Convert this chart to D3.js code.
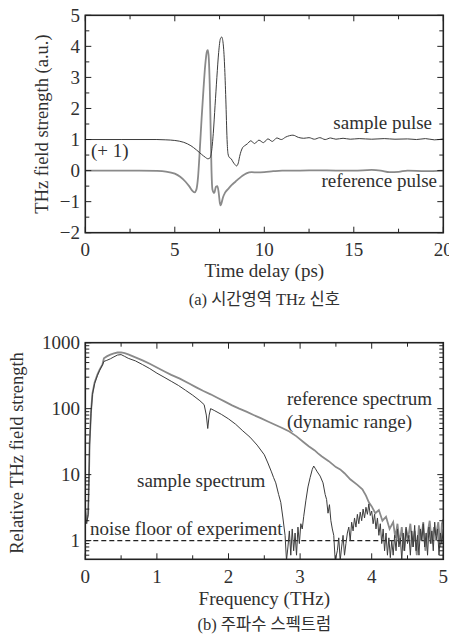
<!DOCTYPE html>
<html><head><meta charset="utf-8">
<script src="https://cdn.jsdelivr.net/npm/d3@7"></script>
<style>
html,body{margin:0;padding:0;background:#fff;}
svg text{font-family:"Liberation Serif","DejaVu Serif","Noto Sans CJK KR",serif;fill:#303030;}
</style></head>
<body>
<svg id="c" width="449" height="637"></svg>
<script>
// ---------- data ----------
const timeTicks = [0, 5, 10, 15, 20];
const fieldTicks = [-2, -1, 0, 1, 2, 3, 4, 5];
const freqTicks = [0, 1, 2, 3, 4, 5];
const ampTicks = [1, 10, 100, 1000];

const refTime = [0,1,2,3,4,4.5,5,5.3,5.6,5.8,
  6.0,6.1,6.2,6.3,6.4,6.5,6.6,6.7,6.8,6.85,
  6.9,6.95,7.0,7.05,7.1,7.2,7.3,7.38,7.45,7.52,
  7.57,7.63,7.7,7.8,8.0,8.2,8.4,8.6,8.8,9.0,
  9.3,9.6,10,10.5,11,12,13,14,15,16,
  16.5,17,17.5,18,19,20];
const refField = [0,0,0,0,-0.01,-0.03,-0.1,-0.2,-0.36,-0.5,
  -0.66,-0.7,-0.62,-0.2,0.7,1.7,2.6,3.4,3.85,3.88,
  3.6,2.8,1.4,0,-0.6,-0.72,-0.52,-0.5,-0.7,-1.05,
  -1.12,-1.0,-0.85,-0.72,-0.58,-0.45,-0.35,-0.25,-0.16,-0.09,
  -0.05,-0.06,-0.05,-0.02,0,0,0.01,0,0,0.02,
  0,-0.05,-0.04,0,-0.02,0];

const samTime = [0,2,4,4.5,5.0,5.5,5.9,6.2,6.5,6.7,
  6.85,6.95,7.05,7.15,7.25,7.35,7.45,7.55,7.62,7.7,
  7.78,7.85,7.92,7.97,8.05,8.15,8.25,8.35,8.45,8.55,
  8.62,8.7,8.8,8.9,9.05,9.25,9.45,9.7,9.95,10.2,
  10.45,10.7,10.95,11.2,11.6,11.9,12.2,12.5,12.8,13.1,
  13.4,13.7,14.0,14.4,14.8,15.3,16,16.7,17.3,18,
  18.5,19,19.5,20];
const samField = [1.0,1.0,1.0,0.99,0.97,0.91,0.8,0.67,0.52,0.43,
  0.38,0.4,0.6,1.2,2.1,3.0,3.8,4.25,4.3,4.1,
  3.4,2.3,1.0,0.55,0.42,0.38,0.28,0.2,0.15,0.25,
  0.45,0.62,0.75,0.8,0.86,0.96,0.87,0.98,0.9,1.02,
  0.94,1.05,1.0,1.08,1.14,1.07,1.04,1.06,1.01,1.06,
  1.0,1.05,1.01,1.04,1.01,1.03,1.01,1.03,1.01,1.02,
  1.0,1.03,0.99,1.02];

const refFreq = [0,0.02,0.04,0.05,0.06,0.08,0.10,0.13,0.17,0.20,
  0.24,0.26,0.30,0.35,0.40,0.45,0.50,0.55,0.60,0.70,
  0.80,0.90,1.00,1.10,1.20,1.32,1.45,1.55,1.65,1.75,
  1.85,1.95,2.05,2.15,2.25,2.35,2.45,2.55,2.65,2.75,
  2.85,2.95,3.05,3.12,3.20,3.25,3.30,3.40,3.50,3.56,
  3.62,3.70,3.80,3.87,3.92,3.96,4.00,4.05,4.10,4.15,
  4.20,4.25,4.30,4.33,4.36,4.39,4.42,4.45,4.48,4.51,
  4.54,4.57,4.60,4.63,4.66,4.69,4.72,4.75,4.78,4.81,
  4.84,4.87,4.90,4.93,4.96,4.98,5.00];
const refAmp = [3,2,2.5,8,30,90,170,250,330,390,
  470,580,620,660,690,710,715,695,665,600,
  540,480,420,370,325,285,240,210,185,165,
  145,128,112,100,90,80,72,64,57,51,
  45,38,31,27,23.5,21,19,16,13,12,
  10.5,8.5,7,6,4.8,3.8,3.3,2.6,2.9,2.0,
  2.3,1.5,1.9,1.1,1.8,0.9,1.6,0.7,1.5,1.1,
  1.8,0.8,1.4,0.6,1.7,1.0,1.9,0.7,1.3,2.0,
  0.9,1.6,1.2,1.9,0.8,1.8,2.1];

const samFreq = [0,0.02,0.04,0.05,0.06,0.08,0.10,0.13,0.17,0.20,
  0.24,0.26,0.30,0.35,0.40,0.45,0.50,0.55,0.60,0.70,
  0.80,0.90,1.00,1.10,1.20,1.30,1.40,1.50,1.60,1.66,
  1.69,1.71,1.73,1.75,1.80,1.90,2.00,2.10,2.20,2.30,
  2.40,2.50,2.55,2.60,2.63,2.66,2.70,2.73,2.76,2.79,
  2.81,2.83,2.85,2.87,2.89,2.91,2.93,2.95,2.97,2.99,
  3.01,3.03,3.05,3.08,3.11,3.14,3.17,3.19,3.21,3.24,
  3.28,3.32,3.35,3.37,3.39,3.41,3.43,3.45,3.47,3.49,
  3.52,3.54,3.56,3.58,3.60,3.62,3.64,3.66,3.68,3.70,
  3.72,3.74,3.76,3.78,3.80,3.82,3.84,3.86,3.88,3.90,
  3.92,3.94,3.96,3.98,4.00,4.02,4.04,4.06,4.08,4.10,
  4.12,4.14,4.16,4.18,4.20,4.22,4.24,4.26,4.28,4.30,
  4.32,4.34,4.36,4.38,4.40,4.42,4.44,4.46,4.48,4.50,
  4.52,4.54,4.56,4.58,4.60,4.62,4.64,4.66,4.68,4.70,
  4.72,4.74,4.76,4.78,4.80,4.82,4.84,4.86,4.88,4.90,
  4.92,4.94,4.96,4.98,5.00];
const samAmp = [2.5,1.8,2.5,7,28,85,165,240,320,380,
  460,520,540,570,610,650,660,620,580,530,
  465,405,345,300,260,225,190,160,132,115,
  80,50,80,100,94,82,70,58,46,37,
  28,20,15,11,9,7.5,5,3.8,2.2,1.2,
  0.5,0.8,1.4,0.6,1.5,0.7,1.3,0.6,1.6,0.9,
  1.8,1.5,2.3,4,6.5,9,12,13.5,12.5,11,
  9.5,7.5,5,4.2,2.6,3.5,2,1.5,1.2,0.5,
  0.7,1.1,0.5,0.8,1.2,0.6,0.9,1.3,1.6,1.0,
  1.9,1.4,2.2,1.6,2.5,1.8,2.7,2.0,3.0,2.2,
  3.2,2.5,3.6,2.4,2.8,1.8,2.5,1.5,2.2,1.2,
  1.8,0.9,1.5,0.7,1.3,0.6,1.1,0.55,1.0,0.6,
  1.2,0.7,1.5,0.8,1.1,0.5,1.3,0.7,1.6,0.9,
  1.2,0.6,1.4,0.8,1.7,0.7,1.2,0.6,1.5,1.0,
  1.8,0.8,1.3,0.6,1.6,0.9,1.4,0.7,1.9,1.0,
  1.5,0.6,1.3,0.9,1.5];
const noiseFloor = 1;

// ---------- drawing ----------
const svg = d3.select("#c");
const AX = "#222", REF = "#8a8a8a", SAM = "#3c3c3c";
const FS = 19;

function frame(g, x, y, xt, xmin, yt, ymin) {
  const [x0, x1] = x.range(), [y1, y0] = y.range();
  const tk = g.append("g").attr("stroke", AX).attr("stroke-width", 1);
  xt.forEach(v => {
    const px = x(v);
    tk.append("line").attr("x1", px).attr("x2", px).attr("y1", y1).attr("y2", y1 - 6);
    tk.append("line").attr("x1", px).attr("x2", px).attr("y1", y0).attr("y2", y0 + 6);
  });
  xmin.forEach(v => {
    const px = x(v);
    tk.append("line").attr("x1", px).attr("x2", px).attr("y1", y1).attr("y2", y1 - 4);
    tk.append("line").attr("x1", px).attr("x2", px).attr("y1", y0).attr("y2", y0 + 4);
  });
  yt.forEach(v => {
    const py = y(v);
    tk.append("line").attr("x1", x0).attr("x2", x0 + 6).attr("y1", py).attr("y2", py);
    tk.append("line").attr("x1", x1).attr("x2", x1 - 6).attr("y1", py).attr("y2", py);
  });
  ymin.forEach(v => {
    const py = y(v);
    tk.append("line").attr("x1", x0).attr("x2", x0 + 4).attr("y1", py).attr("y2", py);
    tk.append("line").attr("x1", x1).attr("x2", x1 - 4).attr("y1", py).attr("y2", py);
  });
  g.append("rect").attr("x", x0).attr("y", y0).attr("width", x1 - x0).attr("height", y1 - y0)
    .attr("fill", "none").attr("stroke", AX).attr("stroke-width", 1.6);
}

// ---- (a) time domain ----
const xa = d3.scaleLinear().domain([0, 20]).range([85.3, 443.3]);
const ya = d3.scaleLinear().domain([-2, 5]).range([232.7, 15.3]);
const ga = svg.append("g");
svg.append("clipPath").attr("id", "ca").append("rect")
  .attr("x", 85.3).attr("y", 15.3).attr("width", 358).attr("height", 217.4);

const lineA = d3.line().curve(d3.curveMonotoneX).x(d => xa(d[0])).y(d => ya(d[1]));
const refPts = refTime.map((t, i) => [t, refField[i]]);
const samPts = samTime.map((t, i) => [t, samField[i]]);
const pa = ga.append("g").attr("clip-path", "url(#ca)");
pa.append("path").attr("d", lineA(refPts)).attr("fill", "none").attr("stroke", REF).attr("stroke-width", 1.8);
pa.append("path").attr("d", lineA(samPts)).attr("fill", "none").attr("stroke", SAM).attr("stroke-width", 1);

frame(ga, xa, ya, timeTicks, d3.range(2.5, 20, 5), fieldTicks, d3.range(-1.5, 5, 1));

ga.selectAll(".xl").data(timeTicks).join("text")
  .attr("x", d => xa(d)).attr("y", 256).attr("text-anchor", "middle")
  .attr("font-size", FS).text(d => d);
ga.selectAll(".yl").data(fieldTicks).join("text")
  .attr("x", 80).attr("y", d => ya(d)).attr("dy", "0.34em").attr("text-anchor", "end")
  .attr("font-size", FS).text(d => d < 0 ? "\u2212" + Math.abs(d) : d);
ga.append("text").attr("x", xa(10)).attr("y", 277).attr("text-anchor", "middle")
  .attr("font-size", FS).text("Time delay (ps)");
ga.append("text").attr("transform", `translate(48,${ya(1.5)}) rotate(-90)`)
  .attr("text-anchor", "middle").attr("font-size", 18.5).text("THz field strength (a.u.)");
ga.append("text").attr("x", xa(10)).attr("y", 305).attr("text-anchor", "middle")
  .attr("font-size", 16.5).text("(a) 시간영역 THz 신호");
ga.append("text").attr("x", 432).attr("y", 129).attr("text-anchor", "end")
  .attr("font-size", FS).text("sample pulse");
ga.append("text").attr("x", 91).attr("y", 157).attr("font-size", FS).text("(+ 1)");
ga.append("text").attr("x", 437).attr("y", 187).attr("text-anchor", "end")
  .attr("font-size", FS).text("reference pulse");

// ---- (b) spectrum ----
const xb = d3.scaleLinear().domain([0, 5]).range([85.3, 443.3]);
const yb = d3.scaleLog().domain([0.52, 1000]).range([559.3, 342.7]);
const gb = svg.append("g");
svg.append("clipPath").attr("id", "cb").append("rect")
  .attr("x", 85.3).attr("y", 342.7).attr("width", 358).attr("height", 216.6);
const lineB = d3.line().x(d => xb(d[0])).y(d => yb(Math.max(d[1], 0.3)));
const pb = gb.append("g").attr("clip-path", "url(#cb)");
pb.append("line").attr("x1", xb(0)).attr("x2", xb(5)).attr("y1", yb(noiseFloor)).attr("y2", yb(noiseFloor))
  .attr("stroke", "#222").attr("stroke-width", 1.2).attr("stroke-dasharray", "5,3");
pb.append("path").attr("d", lineB(refFreq.map((f, i) => [f, refAmp[i]])))
  .attr("fill", "none").attr("stroke", REF).attr("stroke-width", 1.8);
pb.append("path").attr("d", lineB(samFreq.map((f, i) => [f, samAmp[i]])))
  .attr("fill", "none").attr("stroke", SAM).attr("stroke-width", 1);

const minorLog = [];
[0.1, 1, 10, 100].forEach(b => d3.range(2, 10).forEach(k => {
  const v = b * k; if (v >= 0.52 && v < 1000) minorLog.push(v);
}));
frame(gb, xb, yb, freqTicks, d3.range(0.5, 5, 1), ampTicks, minorLog);

gb.selectAll(".xl").data(freqTicks).join("text")
  .attr("x", d => xb(d)).attr("y", 583).attr("text-anchor", "middle")
  .attr("font-size", FS).text(d => d);
gb.selectAll(".yl").data(ampTicks).join("text")
  .attr("x", 80).attr("y", d => yb(d)).attr("dy", "0.34em").attr("text-anchor", "end")
  .attr("font-size", FS).text(d => d);
gb.append("text").attr("x", xb(2.5)).attr("y", 605).attr("text-anchor", "middle")
  .attr("font-size", FS).text("Frequency (THz)");
gb.append("text").attr("transform", `translate(23,453) rotate(-90)`)
  .attr("text-anchor", "middle").attr("font-size", 18.5).text("Relative THz field strength");
gb.append("text").attr("x", xb(2.5)).attr("y", 630).attr("text-anchor", "middle")
  .attr("font-size", 16.5).text("(b) 주파수 스펙트럼");
gb.append("text").attr("x", 287).attr("y", 405).attr("font-size", FS).text("reference spectrum");
gb.append("text").attr("x", 287).attr("y", 428).attr("font-size", FS).text("(dynamic range)");
gb.append("text").attr("x", 137).attr("y", 487).attr("font-size", FS).text("sample spectrum");
gb.append("text").attr("x", 90).attr("y", 535).attr("font-size", FS).text("noise floor of experiment");
</script>
</body></html>
